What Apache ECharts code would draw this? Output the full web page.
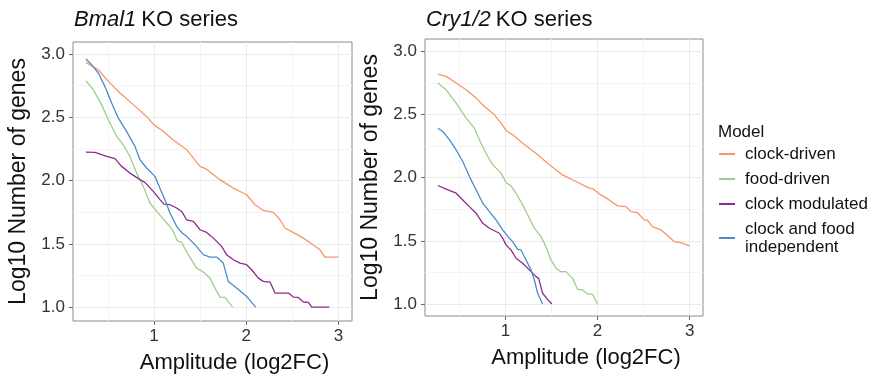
<!DOCTYPE html>
<html>
<head>
<meta charset="utf-8">
<script src="https://cdn.jsdelivr.net/npm/echarts@6/dist/echarts.min.js"></script>
<style>
html,body{margin:0;padding:0;background:#fff;}
#c{width:885px;height:381px;}
</style>
</head>
<body>
<div id="c"></div>
<script>
// ---- data ----
const seriesNames = ['clock-driven', 'food-driven', 'clock modulated', 'clock and food independent'];
const seriesColors = ['#F8956A', '#9DCF8C', '#8C2A8E', '#4A8BCB'];
const xTicks = [1, 2, 3];
const xMinor = [0.5, 1.5, 2.5];
const yTicks = [1.0, 1.5, 2.0, 2.5, 3.0];
const yMinor = [1.25, 1.75, 2.25, 2.75];

const bmalClockDriven = [[0.262,2.934],[0.396,2.876],[0.505,2.784],[0.631,2.692],[0.776,2.60],[0.920,2.507],[1.0,2.44],[1.10,2.389],[1.21,2.32],[1.354,2.244],[1.50,2.112],[1.571,2.09],[1.716,2.007],[1.861,1.94],[2.005,1.888],[2.096,1.809],[2.186,1.764],[2.295,1.748],[2.367,1.69],[2.42,1.625],[2.51,1.59],[2.62,1.545],[2.71,1.50],[2.80,1.453],[2.855,1.395],[3.0,1.395]];
const bmalFoodDriven = [[0.262,2.789],[0.342,2.718],[0.432,2.60],[0.505,2.48],[0.595,2.349],[0.667,2.283],[0.74,2.19],[0.812,2.059],[0.884,1.954],[0.957,1.822],[1.047,1.743],[1.156,1.651],[1.21,1.598],[1.253,1.524],[1.30,1.511],[1.372,1.414],[1.463,1.308],[1.535,1.277],[1.608,1.229],[1.662,1.15],[1.716,1.079],[1.77,1.076],[1.854,1.0]];
const bmalClockModulated = [[0.262,2.225],[0.36,2.223],[0.487,2.191],[0.577,2.173],[0.649,2.112],[0.74,2.059],[0.848,2.007],[0.902,1.986],[0.993,1.914],[1.065,1.849],[1.108,1.814],[1.174,1.809],[1.246,1.783],[1.30,1.756],[1.354,1.69],[1.427,1.677],[1.50,1.611],[1.571,1.59],[1.644,1.545],[1.734,1.48],[1.788,1.414],[1.861,1.374],[1.933,1.348],[2.005,1.335],[2.06,1.295],[2.132,1.229],[2.186,1.203],[2.259,1.198],[2.313,1.111],[2.458,1.111],[2.512,1.079],[2.566,1.076],[2.62,1.04],[2.675,1.037],[2.711,1.0],[2.902,1.0]];
const bmalIndependent = [[0.262,2.96],[0.324,2.916],[0.396,2.85],[0.468,2.744],[0.541,2.613],[0.613,2.494],[0.703,2.389],[0.794,2.27],[0.848,2.165],[0.920,2.099],[1.011,2.033],[1.065,1.94],[1.119,1.849],[1.174,1.743],[1.246,1.638],[1.30,1.59],[1.354,1.559],[1.445,1.493],[1.535,1.414],[1.608,1.395],[1.68,1.395],[1.752,1.348],[1.806,1.203],[1.897,1.15],[2.005,1.084],[2.103,1.0]];

const cryClockDriven = [[0.267,2.82],[0.357,2.802],[0.466,2.749],[0.574,2.696],[0.682,2.63],[0.773,2.564],[0.881,2.498],[0.953,2.432],[1.007,2.374],[1.079,2.339],[1.188,2.273],[1.332,2.194],[1.477,2.102],[1.621,2.022],[1.765,1.97],[1.91,1.917],[1.946,1.914],[2.018,1.872],[2.126,1.824],[2.217,1.777],[2.307,1.771],[2.361,1.732],[2.433,1.724],[2.505,1.666],[2.542,1.663],[2.596,1.613],[2.686,1.587],[2.758,1.542],[2.83,1.494],[2.903,1.486],[3.0,1.46]];
const cryFoodDriven = [[0.267,2.749],[0.357,2.696],[0.466,2.59],[0.574,2.472],[0.664,2.392],[0.736,2.273],[0.809,2.168],[0.863,2.102],[0.953,2.036],[1.007,1.962],[1.061,1.935],[1.116,1.877],[1.188,1.785],[1.26,1.679],[1.314,1.60],[1.386,1.534],[1.44,1.454],[1.495,1.349],[1.549,1.283],[1.603,1.256],[1.657,1.256],[1.729,1.203],[1.783,1.116],[1.838,1.111],[1.892,1.079],[1.946,1.077],[2.0,1.0]];
const cryClockModulated = [[0.267,1.938],[0.357,1.909],[0.466,1.877],[0.538,1.824],[0.61,1.771],[0.682,1.719],[0.755,1.639],[0.827,1.60],[0.935,1.56],[0.971,1.52],[1.007,1.468],[1.061,1.428],[1.116,1.362],[1.188,1.322],[1.26,1.27],[1.332,1.217],[1.361,1.203],[1.404,1.085],[1.458,1.037],[1.505,1.0]];
const cryIndependent = [[0.267,2.392],[0.321,2.366],[0.394,2.30],[0.466,2.221],[0.538,2.128],[0.61,2.009],[0.682,1.904],[0.755,1.798],[0.827,1.732],[0.899,1.666],[0.971,1.587],[1.043,1.52],[1.079,1.494],[1.134,1.433],[1.17,1.428],[1.224,1.349],[1.278,1.27],[1.314,1.19],[1.35,1.085],[1.404,1.0]];

// ---- chart ----
const FONT = 'Liberation Sans';
const chart = echarts.init(document.getElementById('c'), null, {renderer: 'canvas'});

const panels = [
  {left: 73, top: 42, width: 279, height: 279, xMin: 0.122, xMax: 3.148, yMin: 0.89, yMax: 3.095,
   data: [bmalClockDriven, bmalFoodDriven, bmalClockModulated, bmalIndependent]},
  {left: 425, top: 39, width: 278, height: 277, xMin: 0.128, xMax: 3.144, yMin: 0.905, yMax: 3.098,
   data: [cryClockDriven, cryFoodDriven, cryClockModulated, cryIndependent]}
];

const grids = [], xAxes = [], yAxes = [], series = [];
panels.forEach((p, i) => {
  grids.push({left: p.left, top: p.top, width: p.width, height: p.height, show: true,
    borderColor: '#8a8a8a', borderWidth: 1, backgroundColor: '#fff', containLabel: false});
  xAxes.push({type: 'value', gridIndex: i, min: p.xMin, max: p.xMax, position: 'bottom',
    name: 'Amplitude (log2FC)', nameLocation: 'middle', nameGap: 31,
    nameTextStyle: {fontFamily: FONT, fontSize: 22, color: '#111', padding: [0, 0, 0, 44]},
    axisLine: {show: false},
    axisTick: {show: true, length: 4, lineStyle: {color: '#666'}, customValues: xTicks},
    axisLabel: {show: true, margin: 7, fontFamily: FONT, fontSize: 17, color: '#333', customValues: xTicks,
      formatter: v => String(Math.round(v))},
    splitLine: {show: true, lineStyle: {color: '#EBEBEB', width: 1}}
  });
  xAxes.push({type: 'value', gridIndex: i, min: p.xMin, max: p.xMax, position: 'top',
    axisLine: {show: false}, axisLabel: {show: false, customValues: xMinor},
    axisTick: {show: false, customValues: xMinor},
    splitLine: {show: true, lineStyle: {color: '#F4F4F4', width: 1}}
  });
  yAxes.push({type: 'value', gridIndex: i, min: p.yMin, max: p.yMax, position: 'left',
    name: 'Log10 Number of genes', nameLocation: 'middle', nameGap: 43,
    nameTextStyle: {fontFamily: FONT, fontSize: 23, color: '#111'},
    axisLine: {show: false},
    axisTick: {show: true, length: 4, lineStyle: {color: '#666'}, customValues: yTicks},
    axisLabel: {show: true, margin: 8, fontFamily: FONT, fontSize: 17, color: '#333', customValues: yTicks,
      formatter: v => v.toFixed(1)},
    splitLine: {show: true, lineStyle: {color: '#EBEBEB', width: 1}}
  });
  yAxes.push({type: 'value', gridIndex: i, min: p.yMin, max: p.yMax, position: 'right',
    axisLine: {show: false}, axisLabel: {show: false, customValues: yMinor},
    axisTick: {show: false, customValues: yMinor},
    splitLine: {show: true, lineStyle: {color: '#F4F4F4', width: 1}}
  });
  p.data.forEach((d, k) => {
    series.push({type: 'line', name: seriesNames[k], xAxisIndex: i * 2, yAxisIndex: i * 2,
      data: d, showSymbol: false, symbol: 'none', smooth: false, z: 3,
      lineStyle: {color: seriesColors[k], width: 1.3}, itemStyle: {color: seriesColors[k]},
      animation: false});
  });
});

const titleRich = {
  i: {fontFamily: FONT, fontSize: 22, fontStyle: 'italic', fontWeight: 'normal', color: '#111'},
  n: {fontFamily: FONT, fontSize: 22, fontWeight: 'normal', color: '#111'}
};

chart.setOption({
  animation: false,
  backgroundColor: '#fff',
  title: [
    {left: 74, top: 9, padding: 0, text: '{i|Bmal1} {n|KO series}', textStyle: {fontWeight: 'normal', rich: titleRich}},
    {left: 426, top: 9, padding: 0, text: '{i|Cry1/2} {n|KO series}', textStyle: {fontWeight: 'normal', rich: titleRich}},
    {left: 718, top: 124, text: 'Model', padding: 0,
      textStyle: {fontFamily: FONT, fontSize: 17, fontWeight: 'normal', color: '#111'}}
  ],
  legend: {
    orient: 'vertical', left: 719, top: 145, padding: 0,
    itemWidth: 16, itemHeight: 2, itemGap: 7, icon: 'rect',
    data: seriesNames,
    formatter: n => n === 'clock and food independent' ? 'clock and food\nindependent' : n,
    textStyle: {fontFamily: FONT, fontSize: 17, color: '#111', lineHeight: 18, padding: [0, 0, 0, 5]},
    selectedMode: false
  },
  grid: grids,
  xAxis: xAxes,
  yAxis: yAxes,
  series: series
});
</script>
</body>
</html>
